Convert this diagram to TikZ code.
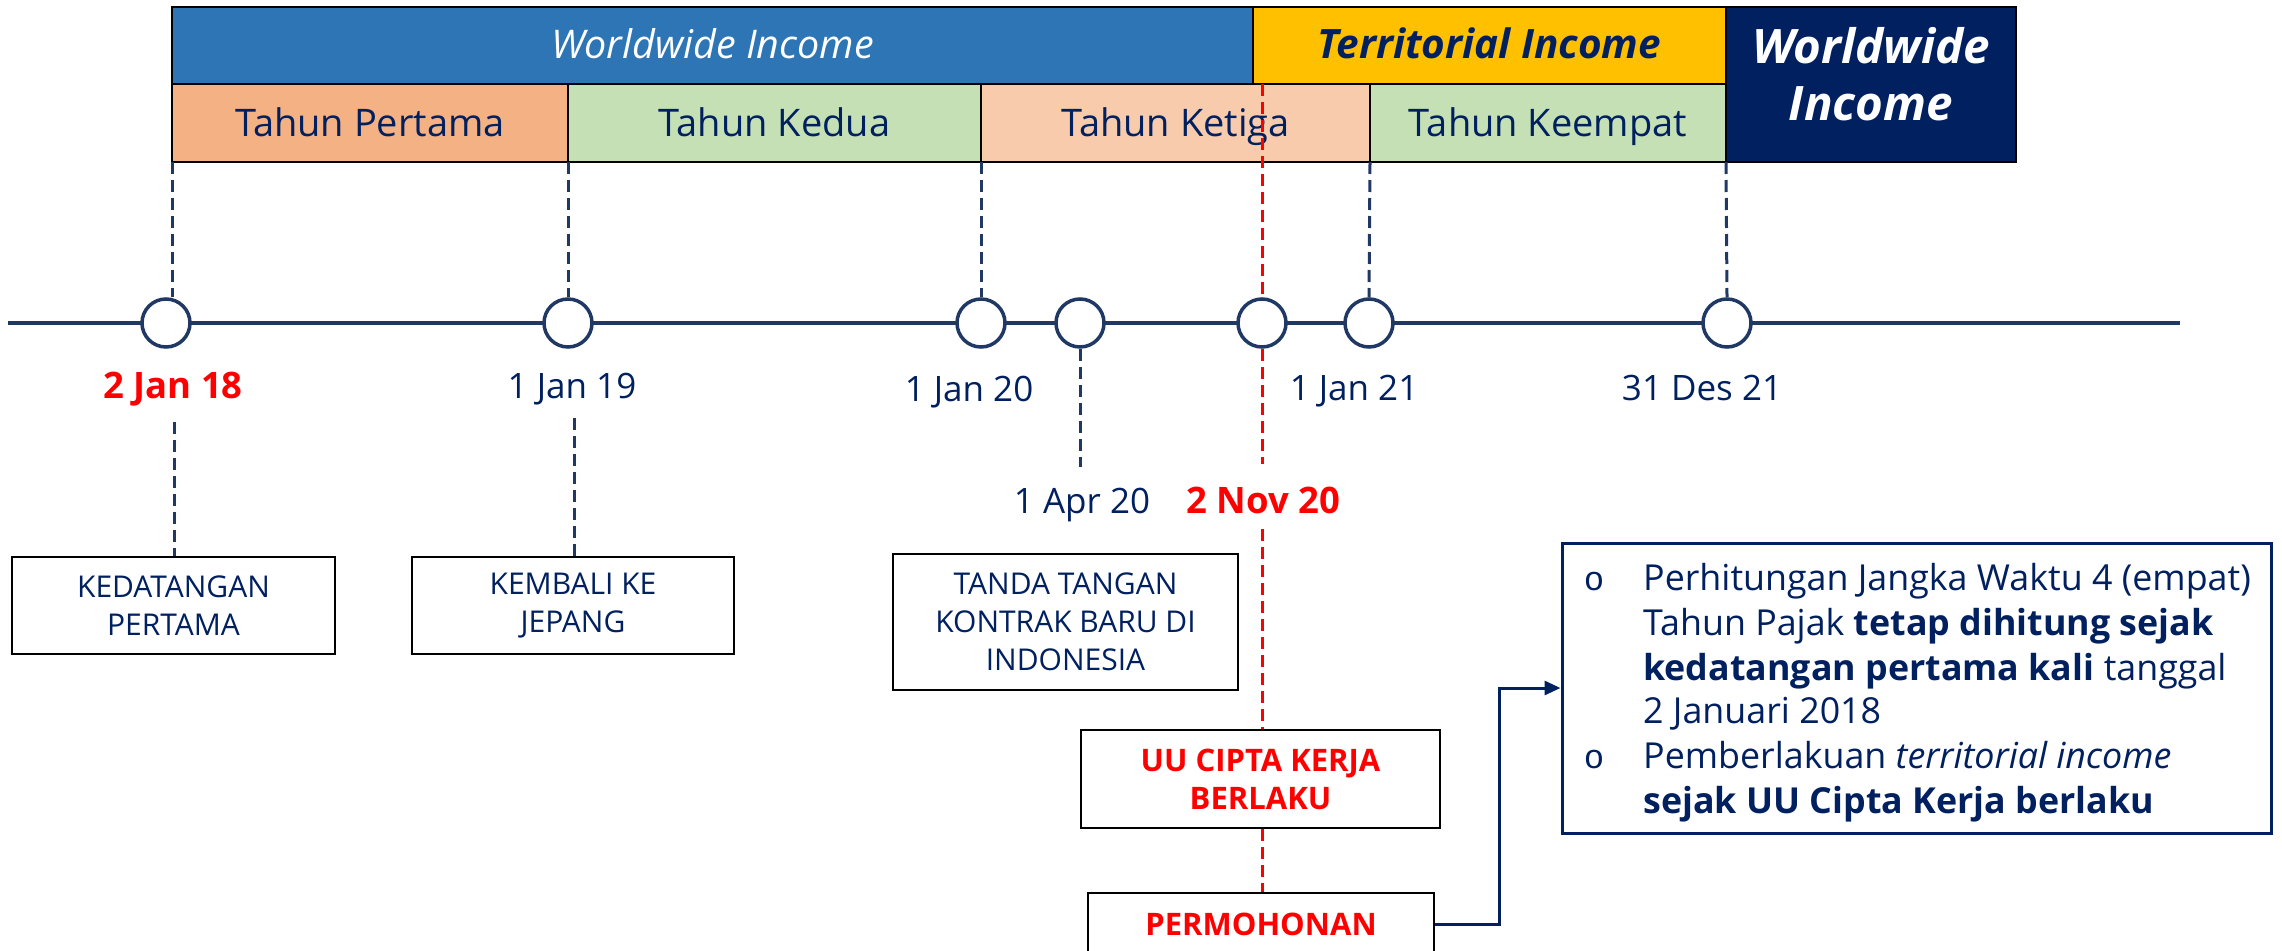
\documentclass[tikz,border=0pt]{standalone}
\usepackage{fontspec}
\setmainfont{Open Sans}
\newfontfamily\bulfont{Liberation Mono}
\usetikzlibrary{arrows.meta}
\definecolor{navy}{HTML}{002060}
\definecolor{tline}{HTML}{1F3864}
\definecolor{wblue}{HTML}{2E75B6}
\definecolor{tyellow}{HTML}{FFC000}
\definecolor{orangeA}{HTML}{F4B183}
\definecolor{greenA}{HTML}{C5E0B4}
\definecolor{peachA}{HTML}{F8CBAD}
\definecolor{redA}{HTML}{FF0000}
\newcommand{\fsz}[2]{\fontsize{#1}{#2}\selectfont}
\begin{document}
\begin{tikzpicture}[x=1pt,y=-1pt,
  cell/.style={draw=black, line width=2.5pt, anchor=north west, inner sep=0pt, outer sep=0pt,
    text height=27pt, text depth=0pt},
  rowtxt/.style={text=navy, font=\fsz{38}{44}},
  dot/.style={circle, draw=tline, fill=white, line width=3.5pt, minimum size=48pt, inner sep=0pt},
  navydash/.style={draw=tline, line width=3pt, dash pattern=on 12pt off 6pt},
  reddash/.style={draw=redA, line width=3pt, dash pattern=on 12pt off 6pt},
  datelbl/.style={anchor=base, inner sep=0pt, text=navy, font=\fsz{35}{40}},
  datered/.style={anchor=base, inner sep=0pt, text=redA, font=\fsz{36.5}{40}\bfseries},
  evbox/.style={draw=black, line width=2.5pt, fill=white, align=center, inner sep=0pt,
    text=navy, font=\fsz{30}{38}},
  redbox/.style={draw=black, line width=2.5pt, fill=white, align=center, inner sep=0pt,
    text=redA, font=\fsz{31}{38}\bfseries},
  rtxt/.style={anchor=base west, inner sep=0pt, text=navy, font=\fsz{35.8}{45}},
  bul/.style={anchor=base, inner sep=0pt, text=navy, font=\bulfont\fsz{34}{34}}
]
\useasboundingbox (0,0) rectangle (2282,950);

% ---- top bars ----
\node[cell, fill=wblue, minimum width=1081pt, minimum height=77pt] (ww) at (172,7)
  {\color{white}\fsz{39.5}{44}\itshape Worldwide Income};
\node[cell, fill=tyellow, minimum width=473pt, minimum height=77pt] (ti) at (1253,7)
  {\color{navy}\fsz{40.5}{44}\bfseries\itshape Territorial Income};
\node[cell, fill=navy, minimum width=290pt, minimum height=155pt] (wd) at (1726,7) {};
\node[align=center, text=white, font=\fsz{47.5}{57}\bfseries\itshape, inner sep=0pt] (wdt) at (1871,74)
  {Worldwide\\Income};
\node[cell, fill=orangeA, minimum width=396pt, minimum height=78pt, rowtxt] (p1) at (172,84) {Tahun Pertama};
\node[cell, fill=greenA, minimum width=413pt, minimum height=78pt, rowtxt] (p2) at (568,84) {Tahun Kedua};
\node[cell, fill=peachA, minimum width=389pt, minimum height=78pt, rowtxt] (p3) at (981,84) {Tahun Ketiga};
\node[cell, fill=greenA, minimum width=356pt, minimum height=78pt, rowtxt] (p4) at (1370,84) {Tahun Keempat};

% ---- timeline ----
\coordinate (tl0) at (8,323);
\coordinate (tl1) at (2180,323);
\draw[tline, line width=4pt] (tl0) -- (tl1);

\node[dot] (c1) at (166,323) {};
\node[dot] (c2) at (568,323) {};
\node[dot] (c3) at (981,323) {};
\node[dot] (c4) at (1080,323) {};
\node[dot] (c5) at (1262,323) {};
\node[dot] (c6) at (1369,323) {};
\node[dot] (c7) at (1727,323) {};

% ---- dashed drops from bars ----
\draw[navydash] (p1.south west) -- (p1.south west |- c1.north);
\draw[navydash] (p2.south west) -- (c2.north);
\draw[navydash] (p3.south west) -- (c3.north);
\draw[navydash] (p4.south west) -- (c6.north);
\draw[navydash] (p4.south east) -- (c7.north);

% ---- date labels ----
\node[datered] (d1) at (173,398) {2 Jan 18};
\node[datelbl] (d2) at (572,398) {1 Jan 19};
\node[datelbl] (d3) at (969,401) {1 Jan 20};
\node[datelbl] (d6) at (1354,400) {1 Jan 21};
\node[datelbl] (d7) at (1702,400) {31 Des 21};
\node[datelbl] (d4) at (1082,513) {1 Apr 20};
\node[datered] (d5) at (1263,513) {2 Nov 20};

% ---- event boxes ----
\node[evbox, minimum width=323pt, minimum height=97pt] (b1) at (173.5,605.5) {KEDATANGAN\\PERTAMA};
\node[evbox, minimum width=322pt, minimum height=97pt] (b2) at (573,605.5) {KEMBALI KE\\JEPANG};
\node[evbox, minimum width=345pt, minimum height=136pt] (b3) at (1065.5,622) {TANDA TANGAN\\KONTRAK BARU DI\\INDONESIA};

\coordinate (k1) at (174,422);
\coordinate (k2) at (574,418);
\coordinate (k4) at (1080,467);
\draw[navydash] (k1) -- (k1 |- b1.north);
\draw[navydash] (k2) -- (k2 |- b2.north);
\draw[navydash] (c4.south) -- (k4);

% ---- red items ----
\node[redbox, minimum width=359pt, minimum height=98pt] (uu) at (1260.5,779) {UU CIPTA KERJA\\BERLAKU};
\node[redbox, minimum width=346pt, minimum height=62pt] (pm) at (1261,924) {PERMOHONAN};

\coordinate (rt0) at (1262,84);
\coordinate (rt1) at (1262,464);
\coordinate (rt2) at (1262,529);
\draw[reddash] (rt0) -- (c5.north);
\draw[reddash] (c5.south) -- (rt1);
\draw[reddash] (rt2) -- (rt2 |- uu.north);
\draw[reddash] (rt2 |- uu.south) -- (rt2 |- pm.north);

% ---- right note box ----
\node[draw=navy, line width=3pt, fill=white, minimum width=709pt, minimum height=290pt, inner sep=0pt] (rb) at (1916.5,688) {};
\draw[navy, line width=3pt, -{Triangle[length=16pt,width=14pt]}] (pm.east) -- ++(64,0) |- (rb.west);

\node[bul] (u1) at (1594,590) {o};
\node[bul] (u2) at (1594,768) {o};
\node[rtxt] (r1) at (1643,590) {Perhitungan Jangka Waktu 4 (empat)};
\node[rtxt] (r2) at (1643,635) {Tahun Pajak \textbf{tetap dihitung sejak}};
\node[rtxt] (r3) at (1643,680) {\textbf{kedatangan pertama kali} tanggal};
\node[rtxt] (r4) at (1643,723) {2 Januari 2018};
\node[rtxt] (r5) at (1643,768) {Pemberlakuan \textit{territorial income}};
\node[rtxt] (r6) at (1643,813) {\textbf{sejak UU Cipta Kerja berlaku}};
\end{tikzpicture}
\end{document}
